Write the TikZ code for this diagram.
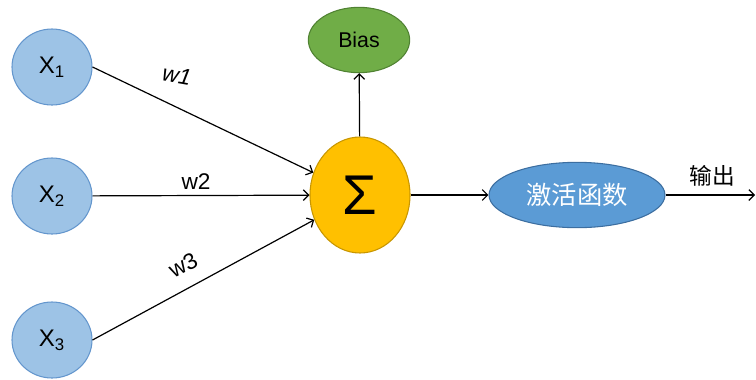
\documentclass[tikz,border=0pt]{standalone}
\usepackage{fontspec}
\setmainfont{Liberation Sans}
\newfontfamily\cjk{Noto Sans CJK SC}
\usepackage{tikz}
\usetikzlibrary{arrows,arrows.meta,shapes.geometric}
\definecolor{inblue}{RGB}{157,195,230}
\definecolor{inblueline}{RGB}{100,150,205}
\definecolor{sumgold}{RGB}{255,192,0}
\definecolor{sumgoldline}{RGB}{200,150,0}
\definecolor{biasgreen}{RGB}{112,173,71}
\definecolor{biasgreenline}{RGB}{80,130,50}
\definecolor{actblue}{RGB}{91,155,213}
\definecolor{actblueline}{RGB}{60,110,160}

\begin{document}
\begin{tikzpicture}[x=0.75pt,y=-0.75pt,
    input/.style={ellipse,draw=inblueline,fill=inblue,line width=0.8pt,inner sep=0pt,minimum width=60pt,minimum height=57pt,font=\fontsize{18}{20}\selectfont},
    conn/.style={-{Straight Barb[length=4pt,width=8pt]},line width=0.9pt}]
    \useasboundingbox (0,0) rectangle (756,379);

    \node[input] at (52,67) (x1) {X\textsubscript{1}};
    \node[input] at (52,196) (x2) {X\textsubscript{2}};
    \node[input] at (52,340) (x3) {X\textsubscript{3}};
    \node[ellipse,draw=sumgoldline,fill=sumgold,line width=0.8pt,inner sep=0pt,minimum width=75pt,minimum height=87pt,font=\fontsize{42}{44}\selectfont] at (360,195) (sum) {Σ};
    \node[ellipse,draw=biasgreenline,fill=biasgreen,line width=0.8pt,inner sep=0pt,minimum width=76pt,minimum height=49pt,font=\fontsize{16}{18}\selectfont] at (359,40) (bias) {Bias};
    \node[ellipse,draw=actblueline,fill=actblue,line width=0.8pt,inner sep=0pt,minimum width=132pt,minimum height=49pt,text=white,font=\cjk\fontsize{19}{21}\selectfont] at (577,195) (act) {激活函数};
    \coordinate (out) at (755,195);

    % weights
    \node[rotate=-10,font=\itshape\fontsize{17}{19}\selectfont] at (177,75) (w1) {w1};
    \node[font=\fontsize{17}{19}\selectfont] at (196,182) (w2) {w2};
    \node[rotate=28,font=\fontsize{17}{19}\selectfont] at (183,265) (w3) {w3};
    \node[font=\cjk\fontsize{17}{19}\selectfont] at (712,176) (outlabel) {输出};

    \draw[conn] (x1.east) -- (sum);
    \draw[conn] (x2) -- (sum);
    \draw[conn] (x3.east) -- (sum);
    \draw[conn] (sum) -- (bias);
    \draw[conn] (sum) -- (act);
    \draw[conn] (act) -- (out);
\end{tikzpicture}
\end{document}
